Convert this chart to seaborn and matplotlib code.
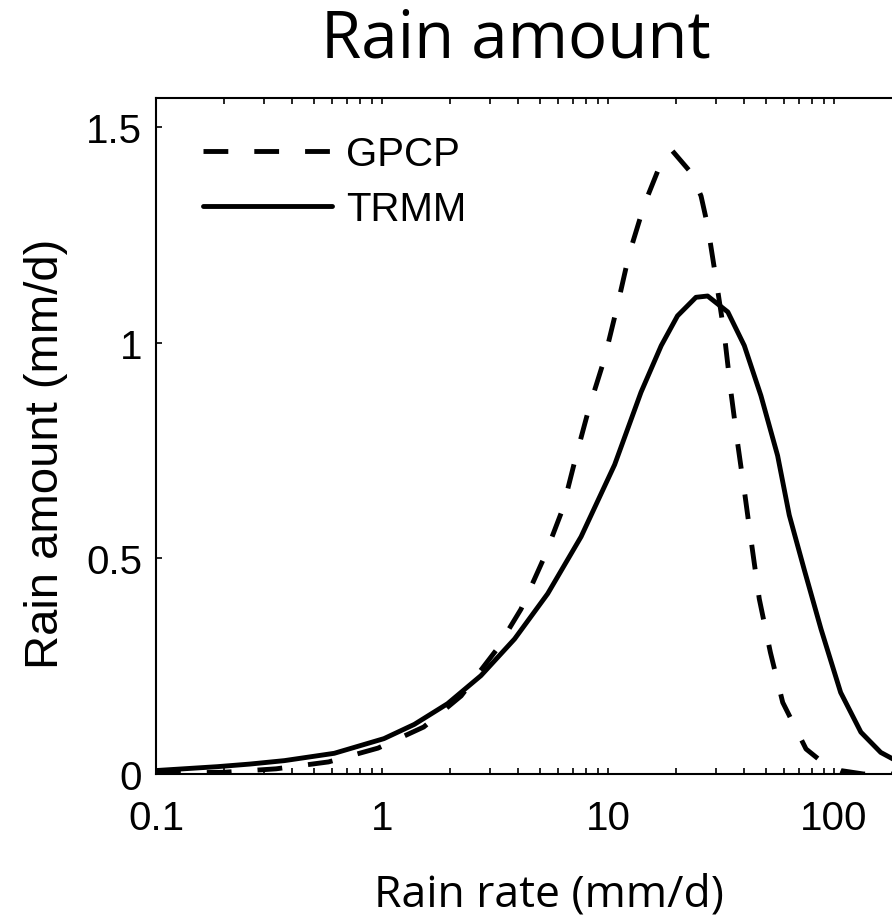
import numpy as np
import pandas as pd
import matplotlib
matplotlib.use("Agg")
import matplotlib.pyplot as plt
import matplotlib.ticker as mticker
import seaborn as sns

# ---- data ----
trmm_x = [0.1, 0.187, 0.26, 0.37, 0.615, 1.02, 1.39, 1.95, 2.74, 3.86, 5.41, 7.6, 10.7,
          14.0, 17.2, 20.3, 24.5, 27.6, 33.9, 40.1, 47.5, 56.3, 63.4, 74.0, 87.6,
          107.0, 131.5, 161.0, 182.0, 200.0]
trmm_y = [0.008, 0.017, 0.023, 0.031, 0.048, 0.082, 0.115, 0.163, 0.228, 0.313, 0.418, 0.550, 0.717,
          0.885, 0.993, 1.062, 1.105, 1.108, 1.071, 0.993, 0.877, 0.738, 0.60, 0.472, 0.336,
          0.189, 0.097, 0.050, 0.035, 0.025]

gpcp_x = [0.1, 0.2, 0.34, 0.58, 0.96, 1.53, 2.24, 3.19, 4.12, 5.22, 6.3, 7.2, 8.26,
          9.64, 11.0, 12.4, 14.5, 17.2, 19.3, 23.3, 25.8, 27.6, 29.9, 32.7, 35.0,
          37.5, 40.4, 42.7, 46.7, 52.3, 59.3, 75.2, 90.0, 107.0, 135.0, 200.0]
gpcp_y = [0.002, 0.004, 0.012, 0.028, 0.06, 0.109, 0.181, 0.286, 0.382, 0.502, 0.614, 0.734, 0.85,
          0.962, 1.085, 1.205, 1.321, 1.418, 1.444, 1.394, 1.34, 1.271, 1.155, 1.02, 0.885,
          0.765, 0.645, 0.552, 0.406, 0.282, 0.166, 0.058, 0.025, 0.008, 0.0, 0.0]

series_names = ["GPCP", "TRMM"]
x_ticks = [0.1, 1, 10, 100]
x_ticklabels = ["0.1", "1", "10", "100"]
y_ticks = [0, 0.5, 1, 1.5]
y_ticklabels = ["0", "0.5", "1", "1.5"]

df = pd.concat([
    pd.DataFrame({"rate": gpcp_x, "amount": gpcp_y, "source": "GPCP"}),
    pd.DataFrame({"rate": trmm_x, "amount": trmm_y, "source": "TRMM"}),
], ignore_index=True)

sns.set_theme(style="white")
plt.rcParams["font.family"] = ["Liberation Sans", "DejaVu Sans"]
plt.rcParams["text.color"] = "black"

W, H = 892, 920
fig = plt.figure(figsize=(W / 100, H / 100), dpi=100)
# axes in pixel coordinates (right edge runs off canvas as in the reference)
left_px, right_px, top_px, bottom_px = 156, 900, 99, 775
ax = fig.add_axes([left_px / W, 1 - bottom_px / H,
                   (right_px - left_px) / W, (bottom_px - top_px) / H])

lw = 3.5
sns.lineplot(data=df, x="rate", y="amount", style="source",
             style_order=series_names,
             dashes={"GPCP": (5.1, 5.35), "TRMM": ""},
             color="black", linewidth=lw, estimator=None, sort=False,
             ax=ax, legend=True)
for line in ax.lines:
    line.set_dash_capstyle("butt")
    line.set_solid_capstyle("butt")
    line.set_solid_joinstyle("round")
    line.set_dash_joinstyle("round")

ax.set_xscale("log")
ax.set_xlim(0.1, 10 ** (-1 + (right_px - left_px) / 226.0))
ax.set_ylim(0, 1.567)

ax.xaxis.set_major_locator(mticker.FixedLocator(x_ticks))
ax.xaxis.set_major_formatter(mticker.FixedFormatter(x_ticklabels))
ax.xaxis.set_minor_locator(mticker.LogLocator(base=10, subs=np.arange(2, 10)))
ax.xaxis.set_minor_formatter(mticker.NullFormatter())
ax.yaxis.set_major_locator(mticker.FixedLocator(y_ticks))
ax.yaxis.set_major_formatter(mticker.FixedFormatter(y_ticklabels))

for s in ax.spines.values():
    s.set_linewidth(1.5)
    s.set_color("black")
ax.spines["right"].set_visible(False)

ax.tick_params(axis="both", which="both", direction="in", top=True, right=False,
               bottom=True, left=True, length=4, width=1.2, color="black",
               labelsize=29, labelcolor="black")
ax.tick_params(axis="x", which="major", pad=18)
ax.tick_params(axis="y", which="major", pad=10)

ax.set_xlabel("")
ax.set_ylabel("")

old = ax.get_legend()
handles = old.legend_handles if old is not None else None
leg = ax.legend(handles=handles, labels=series_names,
                loc="upper left", bbox_to_anchor=(203 / W, 1 - 136 / H),
                bbox_transform=fig.transFigure,
                frameon=False, fontsize=29, handlelength=3.2, handletextpad=0.36,
                labelspacing=0.42, borderpad=0.0, borderaxespad=0.0)
for h in leg.get_lines():
    h.set_linewidth(lw)
    h.set_color("black")
    h.set_dash_capstyle("butt")
for t in leg.get_texts():
    t.set_color("black")

title_font = ["Open Sans", "DejaVu Sans"]
fig.text(516 / W, 1 - 57 / H, "Rain amount", ha="center", va="baseline",
         fontsize=47, family=title_font, color="black")
fig.text(549 / W, 1 - 907 / H, "Rain rate (mm/d)", ha="center", va="baseline",
         fontsize=32, family=title_font, color="black")
fig.text(46 / W, 1 - 454 / H, "Rain amount (mm/d)", ha="center", va="center",
         rotation=90, fontsize=34, color="black")

fig.savefig("out.png", dpi=100, facecolor="white")
